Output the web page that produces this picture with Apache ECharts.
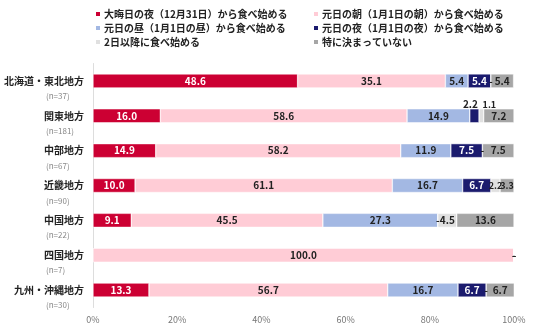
<!DOCTYPE html>
<html><head><meta charset="utf-8">
<script src="https://cdn.jsdelivr.net/npm/echarts@6/dist/echarts.min.js"></script>
<style>html,body{margin:0;padding:0;background:#fff}#c{width:536px;height:330px}</style>
</head><body><div id="c"></div>
<script>
const regions = ['北海道・東北地方','関東地方','中部地方','近畿地方','中国地方','四国地方','九州・沖縄地方'];
const sampleSizes = ['n=37','n=181','n=67','n=90','n=22','n=7','n=30'];
const seriesNames = ['大晦日の夜（12月31日）から食べ始める','元日の朝（1月1日の朝）から食べ始める','元日の昼（1月1日の昼）から食べ始める','元日の夜（1月1日の夜）から食べ始める','2日以降に食べ始める','特に決まっていない'];
const newYearsEve = [48.6, 16.0, 14.9, 10.0, 9.1, 0, 13.3];
const dayMorning = [35.1, 58.6, 58.2, 61.1, 45.5, 100.0, 56.7];
const dayNoon = [5.4, 14.9, 11.9, 16.7, 27.3, 0, 16.7];
const dayNight = [5.4, 2.2, 7.5, 6.7, 0, 0, 6.7];
const day2Later = [0, 1.1, 0, 2.2, 4.5, 0, 0];
const notDecided = [5.4, 7.2, 7.5, 3.3, 13.6, 0, 6.7];
const xTicks = [0, 20, 40, 60, 80, 100];

const values = [newYearsEve, dayMorning, dayNoon, dayNight, day2Later, notDecided];
const colors = ['#CC0033', '#FFCCD6', '#A3B8E3', '#1B1B6E', '#E0E0E0', '#A6A6A6'];
const labelColors = ['#fff', '#222', '#222', '#fff', '#222', '#222'];
const FONT = '"Noto Sans CJK JP", "Noto Sans", sans-serif';

const series = values.map((arr, si) => ({
  name: seriesNames[si],
  type: 'bar',
  stack: 'total',
  barWidth: 14,
  itemStyle: { color: colors[si], borderColor: '#fff', borderWidth: 0.5 },
  label: {
    show: true, position: 'inside', fontSize: 10, fontWeight: 'bold', fontFamily: FONT,
    color: labelColors[si],
    formatter: p => p.value === 0 ? '-' : p.value.toFixed(1)
  },
  data: arr.map((v, i) => {
    const d = { value: v };
    if (v === 0 && si === 0) d.label = { show: false };
    if (v === 0) d.label = Object.assign({}, d.label || {}, { color: '#222' });
    if (i === 1 && si === 3) d.label = { position: 'top', color: '#222', offset: [-4, 0], distance: 0 };
    if (i === 1 && si === 4) d.label = { position: 'top', color: '#222', offset: [8, 0], distance: 0, fontSize: 9 };
    if (i === 3 && (si === 4 || si === 5)) d.label = { fontSize: 9 };
    return d;
  })
}));

const chart = echarts.init(document.getElementById('c'), null, { renderer: 'canvas' });
chart.setOption({
  animation: false,
  textStyle: { fontFamily: FONT },
  legend: [
    { left: 89, top: 4, orient: 'vertical', itemWidth: 6, itemHeight: 6, itemGap: 4, icon: 'rect',
      data: [seriesNames[0], seriesNames[2], seriesNames[4]],
      textStyle: { fontSize: 10, fontWeight: 'bold', color: '#222', fontFamily: FONT, padding: [0,0,0,-2] } },
    { left: 307, top: 4, orient: 'vertical', itemWidth: 6, itemHeight: 6, itemGap: 4, icon: 'rect',
      data: [seriesNames[1], seriesNames[3], seriesNames[5]],
      textStyle: { fontSize: 10, fontWeight: 'bold', color: '#222', fontFamily: FONT, padding: [0,0,0,-2] } }
  ],
  grid: { left: 93, right: 22, top: 63.5, bottom: 22.5 },
  xAxis: {
    type: 'value', min: 0, max: 100, interval: 20,
    axisLine: { show: false }, axisTick: { show: false }, splitLine: { show: false },
    axisLabel: { formatter: v => xTicks.includes(v) ? v + '%' : '', fontSize: 9, color: '#777', margin: 8 }
  },
  yAxis: {
    type: 'category', inverse: true, data: regions,
    axisLine: { show: true, lineStyle: { color: '#ddd' } }, axisTick: { show: false },
    axisLabel: {
      margin: 9,
      padding: [15, 0, 0, 0],
      formatter: (v, i) => '{a|' + v + '}\n{b|(' + sampleSizes[i] + ')}',
      rich: {
        a: { fontSize: 10, fontWeight: 'bold', color: '#222', lineHeight: 15, width: 78, align: 'right', fontFamily: FONT },
        b: { fontSize: 8, color: '#888', lineHeight: 15, align: 'left', padding: [0, 0, 0, 40], fontFamily: FONT }
      }
    }
  },
  series
});
</script></body></html>
